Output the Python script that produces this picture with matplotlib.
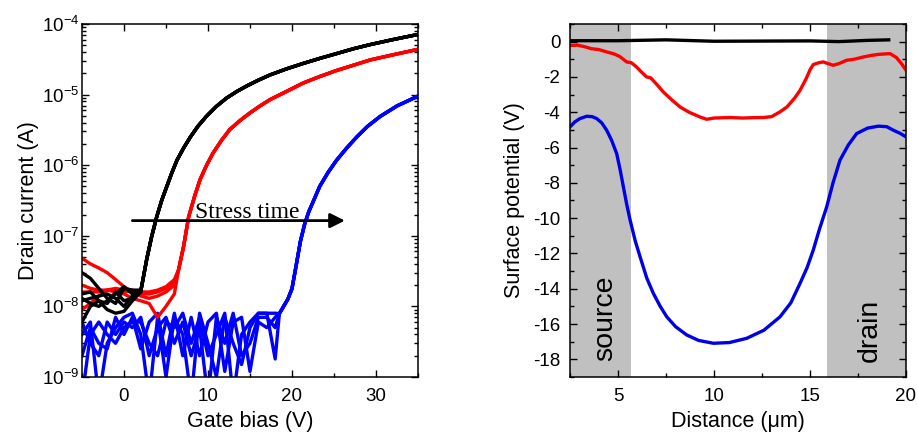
import numpy as np
import matplotlib
matplotlib.use("Agg")
import matplotlib.pyplot as plt
from matplotlib.ticker import MultipleLocator, LogLocator, NullFormatter, FixedLocator

plt.rcParams['font.family'] = ['Liberation Sans', 'DejaVu Sans']
plt.rcParams['mathtext.fontset'] = 'custom'
plt.rcParams['mathtext.rm'] = 'Liberation Sans'
plt.rcParams['mathtext.it'] = 'Liberation Sans:italic'
plt.rcParams['axes.unicode_minus'] = False

# ---------------- Left panel data: transfer curves ----------------
# off-state sweeps (1 V steps)
black_off_x = [-5, -4, -3, -2, -1, 0, 1, 2]
black_off = [
    [3.0e-8, 2.5e-8, 1.8e-8, 1.3e-8, 1.1e-8, 1.8e-8, 1.7e-8, 1.7e-8],
    [1.5e-8, 1.6e-8, 1.2e-8, 9.0e-9, 8.0e-9, 8.5e-9, 1.2e-8, 1.6e-8],
    [1.2e-8, 1.3e-8, 1.4e-8, 1.5e-8, 1.3e-8, 1.0e-8, 1.4e-8, 1.7e-8],
    [6.0e-9, 1.0e-8, 1.2e-8, 1.1e-8, 1.6e-8, 1.2e-8, 1.3e-8, 1.6e-8],
    [1.3e-8, 1.1e-8, 1.0e-8, 1.2e-8, 1.5e-8, 1.9e-8, 1.5e-8, 1.7e-8],
]
black_on_x = [2.1, 2.7, 3.3, 3.9, 4.5, 5.1, 5.7, 6.3, 7.1, 7.9, 8.8, 9.8, 11.0, 12.2,
              13.4, 14.6, 16.0, 17.4, 19.3, 21.3, 23.3, 25.3, 27.3, 29.3, 32, 35]
black_on = [1.9e-8, 4.6e-8, 9.8e-8, 1.86e-7, 3.2e-7, 5.0e-7, 7.8e-7, 1.17e-6,
            1.75e-6, 2.5e-6, 3.55e-6, 4.9e-6, 6.8e-6, 8.9e-6, 1.1e-5, 1.32e-5,
            1.6e-5, 1.9e-5, 2.3e-5, 2.75e-5, 3.25e-5, 3.8e-5, 4.45e-5, 5.1e-5,
            6.0e-5, 7.1e-5]

red_off_x = [-5, -4, -3, -2, -1, 0, 1, 2, 3, 4, 5, 6]
red_off = [
    [4.8e-8, 4.0e-8, 3.5e-8, 3.0e-8, 2.4e-8, 1.9e-8, 1.6e-8, 1.5e-8, 1.5e-8, 1.6e-8, 1.8e-8, 2.2e-8],
    [2.0e-8, 1.8e-8, 1.7e-8, 1.7e-8, 1.8e-8, 1.7e-8, 1.6e-8, 1.4e-8, 1.3e-8, 1.4e-8, 1.6e-8, 2.0e-8],
    [9.0e-9, 1.1e-8, 1.4e-8, 1.7e-8, 1.6e-8, 1.5e-8, 1.3e-8, 1.2e-8, 1.1e-8, 7.0e-9, 1.0e-8, 1.5e-8],
    [1.6e-8, 1.6e-8, 1.6e-8, 1.7e-8, 1.7e-8, 1.6e-8, 1.7e-8, 1.6e-8, 1.6e-8, 1.7e-8, 1.9e-8, 2.4e-8],
]
red_on_x = [6.5, 7.1, 7.7, 8.4, 9.05, 9.8, 10.6, 11.6, 12.6, 13.8, 15.0, 16.2, 17.4,
            19.3, 21.3, 23.3, 25.3, 27.3, 29.3, 32, 35]
red_on = [3.3e-8, 7.1e-8, 1.86e-7, 3.6e-7, 6.2e-7, 9.8e-7, 1.48e-6, 2.24e-6,
          3.2e-6, 4.27e-6, 5.5e-6, 6.9e-6, 8.5e-6, 1.1e-5, 1.45e-5, 1.8e-5,
          2.19e-5, 2.6e-5, 3.09e-5, 3.65e-5, 4.37e-5]

blue_off_x = list(range(-5, 19))
blue_off = [
    [4e-9, 6e-9, 5e-10, 3e-9, 5e-9, 7e-9, 8e-9, 4e-9, 5e-10, 7e-9, 1e-9, 7e-9,
     4e-9, 5e-10, 8e-9, 3e-9, 1e-9, 7e-9, 3e-9, 1.5e-9, 5e-9, 8e-9, 8e-9, 1.8e-9],
    [6e-9, 3e-9, 2e-9, 6e-9, 4e-9, 6e-9, 5e-9, 7e-9, 2e-9, 5e-9, 7e-9, 3e-9,
     6e-9, 2e-9, 5e-9, 5e-10, 7e-9, 3e-9, 8e-9, 2e-9, 3e-9, 7e-9, 7e-9, 5e-9],
    [2e-9, 5e-9, 3e-9, 2.5e-9, 7e-9, 4e-9, 7e-9, 2.5e-9, 6e-9, 8e-9, 2e-9, 8e-9,
     2e-9, 7e-9, 2e-9, 6e-9, 8e-9, 1.2e-9, 6e-9, 7e-9, 1.2e-9, 6e-9, 5e-9, 7e-9],
    [5e-10, 4e-9, 6e-9, 4e-9, 3e-9, 5e-9, 6e-9, 6e-9, 3e-9, 2e-9, 6e-9, 5e-9,
     8e-9, 3e-9, 7e-9, 2e-9, 4e-9, 8e-9, 5e-10, 4e-9, 6e-9, 8e-9, 8e-9, 8e-9],
]
blue_on_x = [18.5, 19, 19.5, 20, 20.5, 21, 21.5, 22, 22.5, 23.3, 24.3, 25.3,
             26.5, 27.7, 29, 30.5, 32.5, 35]
blue_on = [7.9e-9, 1.0e-8, 1.26e-8, 1.78e-8, 3.8e-8, 8.3e-8, 1.45e-7, 2.19e-7,
           3.0e-7, 5.0e-7, 7.9e-7, 1.17e-6, 1.74e-6, 2.5e-6, 3.55e-6, 4.9e-6,
           6.9e-6, 9.5e-6]

# ---------------- Right panel data: surface potential ----------------
black_sp_x = [2.5, 5, 7.5, 10, 12.5, 15, 16.5, 18, 19.1]
black_sp_y = [0.05, 0.05, 0.1, 0.02, 0.03, 0.04, 0.0, 0.07, 0.1]

red_sp_x = [2.5, 2.9, 3.3, 3.6, 4.0, 4.4, 4.8, 5.1, 5.45, 5.7, 5.97, 6.2, 6.49, 6.7,
            7.0, 7.36, 7.8, 8.23, 8.7, 9.27, 9.62, 10.0, 10.83, 11.5, 12.0, 12.57,
            13.0, 13.44, 13.8, 14.2, 14.48, 14.8, 15.0, 15.17, 15.45, 15.69, 15.95,
            16.21, 16.5, 16.9, 17.3, 17.78, 18.2, 18.6, 19.17, 19.5, 19.8, 20.0]
red_sp_y = [-0.22, -0.2, -0.3, -0.4, -0.45, -0.58, -0.7, -0.85, -1.15, -1.2, -1.44,
            -1.7, -2.0, -2.05, -2.4, -2.85, -3.3, -3.7, -4.0, -4.27, -4.4, -4.33,
            -4.3, -4.33, -4.31, -4.3, -4.25, -3.98, -3.7, -3.2, -2.76, -2.1, -1.6,
            -1.3, -1.2, -1.15, -1.25, -1.34, -1.25, -1.06, -1.0, -0.87, -0.78,
            -0.72, -0.68, -0.9, -1.3, -1.62]

blue_sp_x = [2.5, 2.75, 3.02, 3.37, 3.65, 3.89, 4.15, 4.41, 4.67, 4.93, 5.1, 5.28,
             5.45, 5.63, 5.9, 6.15, 6.5, 6.84, 7.2, 7.54, 8.0, 8.58, 9.2, 9.97,
             10.8, 11.7, 12.6, 13.44, 14.0, 14.48, 14.85, 15.17, 15.5, 15.87, 16.2,
             16.56, 17.0, 17.43, 18.0, 18.56, 19.0, 19.34, 19.7, 20.0]
blue_sp_y = [-4.83, -4.55, -4.36, -4.23, -4.25, -4.36, -4.6, -5.02, -5.6, -6.34,
             -7.2, -8.23, -9.2, -10.11, -11.3, -12.19, -13.4, -14.26, -15.0, -15.59,
             -16.15, -16.62, -16.93, -17.09, -17.05, -16.81, -16.35, -15.59, -14.8,
             -13.7, -12.8, -11.81, -10.6, -9.36, -8.0, -6.72, -5.85, -5.21, -4.9,
             -4.79, -4.82, -5.02, -5.2, -5.40]

source_region = (2.5, 5.7)
drain_region = (15.9, 20.0)

fig = plt.figure(figsize=(9.17, 4.38), dpi=100)
ax1 = fig.add_axes([0.0894, 0.1393, 0.3664, 0.806])
ax2 = fig.add_axes([0.6216, 0.1393, 0.3664, 0.806])

LW = 2.4
for sw in blue_off:
    ax1.plot(blue_off_x + blue_on_x, sw + blue_on, color='#0000ff', lw=LW)
for sw in red_off:
    ax1.plot(red_off_x + red_on_x, sw + red_on, color='#ff0000', lw=LW)
for sw in black_off:
    ax1.plot(black_off_x + black_on_x, sw + black_on, color='black', lw=LW)

ax1.set_yscale('log')
ax1.set_xlim(-5, 35)
ax1.set_ylim(1e-9, 1e-4)
ax1.xaxis.set_major_locator(FixedLocator([0, 10, 20, 30]))
ax1.xaxis.set_minor_locator(FixedLocator([-5, 5, 15, 25, 35]))
ax1.yaxis.set_minor_locator(LogLocator(base=10, subs=np.arange(2, 10), numticks=20))
ax1.yaxis.set_minor_formatter(NullFormatter())
ax1.set_yticks([1e-9, 1e-8, 1e-7, 1e-6, 1e-5, 1e-4])
ax1.set_yticklabels([r'$\mathregular{10^{-%d}}$' % k for k in [9, 8, 7, 6, 5, 4]])
ax1.set_xlabel('Gate bias (V)', fontsize=15.5, labelpad=4)
ax1.set_ylabel('Drain current (A)', fontsize=15.5, labelpad=2)

ax1.annotate('', xy=(26.3, 1.64e-7), xytext=(1.0, 1.64e-7),
             arrowprops=dict(arrowstyle='-|>', color='black', lw=2.0,
                             mutation_scale=22, shrinkA=0, shrinkB=0))
ax1.text(8.4, 1.8e-7, 'Stress time', family=['Liberation Serif', 'DejaVu Serif'],
         fontsize=17, ha='left', va='baseline')

# right panel
ax2.axvspan(*source_region, color='#c0c0c0', lw=0, zorder=0)
ax2.axvspan(*drain_region, color='#c0c0c0', lw=0, zorder=0)
ax2.plot(black_sp_x, black_sp_y, color='black', lw=LW)
ax2.plot(red_sp_x, red_sp_y, color='#ff0000', lw=LW)
ax2.plot(blue_sp_x, blue_sp_y, color='#0000e6', lw=LW)
ax2.set_xlim(2.5, 20)
ax2.set_ylim(-19, 1)
ax2.xaxis.set_major_locator(MultipleLocator(5))
ax2.xaxis.set_minor_locator(MultipleLocator(2.5))
ax2.yaxis.set_major_locator(MultipleLocator(2))
ax2.yaxis.set_minor_locator(MultipleLocator(1))
ax2.set_xlabel('Distance (μm)', fontsize=15.5, labelpad=4)
ax2.set_ylabel('Surface potential (V)', fontsize=15.5, labelpad=6)
ax2.text(4.32, -15.68, 'source', rotation=90, fontsize=20.5, ha='center', va='center')
ax2.text(18.125, -16.34, 'drain', rotation=90, fontsize=20.5, ha='center', va='center')

for ax in (ax1, ax2):
    for s in ax.spines.values():
        s.set_linewidth(1.1)
    ax.tick_params(which='both', direction='in', top=True, right=True, width=1.0,
                   labelsize=13.5)
    ax.tick_params(which='major', length=5)
    ax.tick_params(which='minor', length=3)
    ax.tick_params(axis='x', which='both', pad=8)
ax1.tick_params(axis='y', which='both', pad=2)
ax2.tick_params(axis='y', which='both', pad=7)

fig.savefig('out.png', dpi=100)
